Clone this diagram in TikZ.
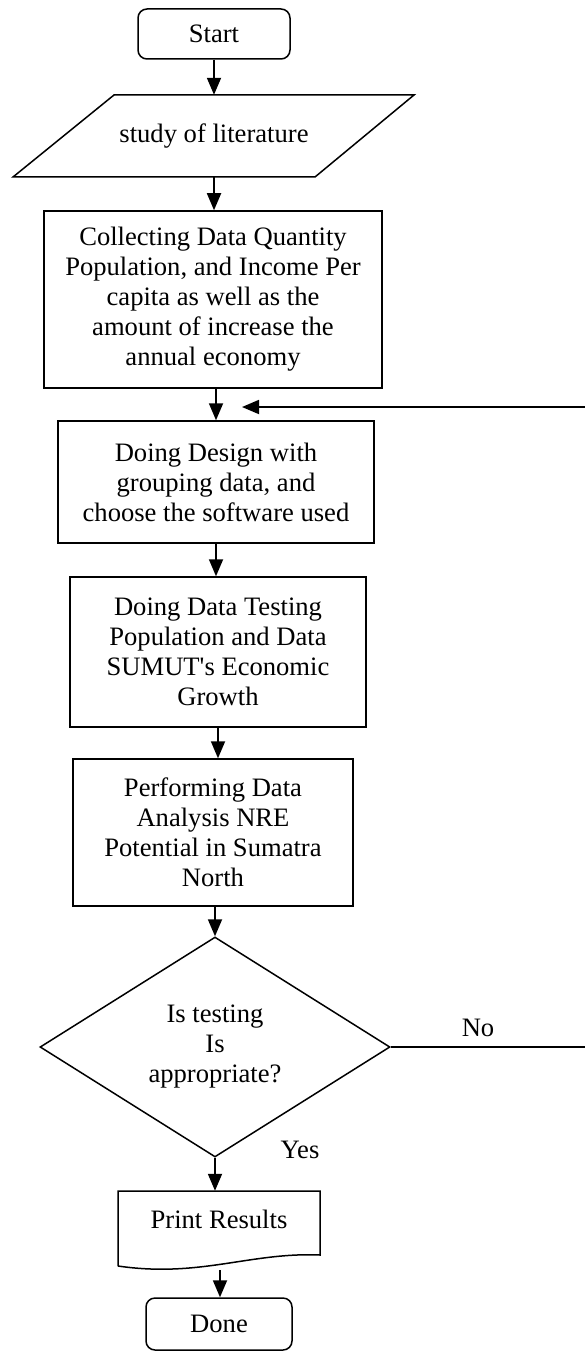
\documentclass[tikz,border=0pt]{standalone}
\usepackage{fontspec}
\setmainfont{Liberation Serif}
\usetikzlibrary{arrows.meta,shapes.geometric}
\begin{document}
\begin{tikzpicture}[x=1pt,y=-1pt,
  every node/.style={font=\fontsize{26.6}{30}\selectfont, align=center, inner sep=0pt},
  boxst/.style={draw, line width=1.5pt, rectangle},
  termst/.style={draw, line width=1.5pt, rectangle, rounded corners=9pt},
  arr/.style={line width=1.8pt, -{Triangle[length=17pt,width=14pt]}},
  plainline/.style={line width=1.5pt}]
\useasboundingbox (0,0) rectangle (585,1351);
% nodes
\node[termst, minimum width=152pt, minimum height=50pt] (start) at (214,34) {Start};
\node[minimum width=200pt, minimum height=82pt] (lit) at (214,136) {study of literature};
\draw[plainline, line join=miter] (114,95) -- (414,95) -- (315,177) -- (13,177) -- cycle;
\node[boxst, minimum width=338pt, minimum height=177pt] (collect) at (213,299.5)
  {Collecting Data Quantity\\Population, and Income Per\\capita as well as the\\amount of increase the\\annual economy};
\node[boxst, minimum width=316pt, minimum height=122pt] (design) at (216,482)
  {Doing Design with\\grouping data, and\\choose the software used};
\node[boxst, minimum width=296pt, minimum height=150pt] (testing) at (218,652)
  {Doing Data Testing\\Population and Data\\SUMUT\textquotesingle s Economic\\Growth};
\node[boxst, minimum width=280pt, minimum height=147pt] (perform) at (213,832.5)
  {Performing Data\\Analysis NRE\\Potential in Sumatra\\North};
\node[draw, line width=1.5pt, diamond, aspect=1.59, minimum width=350pt, minimum height=220pt] (dec) at (215,1047)
  {Is testing\\Is\\appropriate?};
\node[minimum width=202pt, minimum height=75pt] (print) at (219,1228.5) {};
\node (printtxt) at (219,1219) {Print Results};
\draw[plainline] (118,1266) -- (118,1191) -- (320,1191) -- (320,1255)
  .. controls (250,1252) and (200,1278) .. (118,1266);
\coordinate (printbot) at (220,1270);
\node[termst, minimum width=146pt, minimum height=52pt] (done) at (219,1324) {Done};
% labels
\node (lblno) at (478,1028) {No};
\node (lblyes) at (300,1150) {Yes};
% connectors
\draw[arr] (start.south) -- (lit.north);
\draw[arr] (lit.south) -- (lit.south |- collect.north);
\draw[arr] (design.north |- collect.south) -- (design.north);
\draw[arr] (design.south) -- (design.south |- testing.north);
\draw[arr] (testing.south) -- (testing.south |- perform.north);
\draw[arr] (perform.south -| dec.north) -- (dec.north);
\draw[arr] (dec.south) -- (dec.south |- print.north);
\draw[arr] (printbot) -- (printbot |- done.north);
\coordinate (loopR) at (588,1047);
\coordinate (loopT) at (588,407);
\coordinate (loopEnd) at (242,407);
\draw[arr] (dec.east) -- (loopR) -- (loopT) -- (loopEnd);
\end{tikzpicture}
\end{document}
